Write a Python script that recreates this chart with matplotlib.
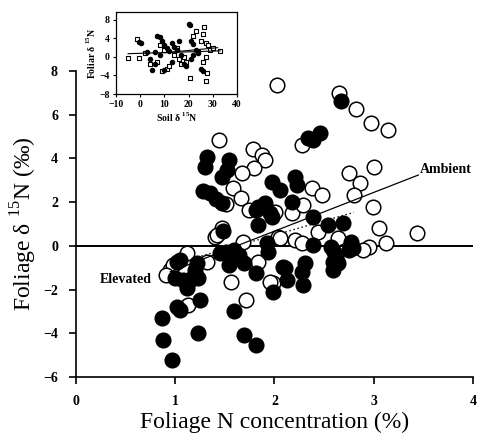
import matplotlib
matplotlib.use("Agg")
from matplotlib import pyplot as plt
import numpy as np

plt.rcParams['font.family'] = ['Liberation Serif', 'DejaVu Serif']
plt.rcParams['mathtext.fontset'] = 'custom'
plt.rcParams['mathtext.rm'] = 'Liberation Serif'
plt.rcParams['mathtext.bf'] = 'Liberation Serif:bold'

# elevated CO2 (filled circles): foliage N (%), foliage d15N (permil)
elev_n = [1.32, 1.30, 1.54, 1.52, 1.47, 1.28, 1.35, 1.41, 1.47, 2.34, 2.46, 2.67, 2.39,
          1.98, 2.06, 2.21, 2.23, 2.18, 1.83, 1.91, 1.98, 1.83, 1.48, 1.93, 2.39, 2.54,
          2.69, 2.77, 2.79, 2.57, 2.39, 2.62, 2.64, 2.59, 1.94, 2.11, 2.13, 2.28, 2.31,
          2.29, 1.99, 1.81, 1.51, 1.64, 1.54, 1.69, 1.81, 1.23, 1.25, 1.59, 1.23, 1.69,
          0.87, 0.88, 0.97, 1.02, 1.12, 1.08, 1.17, 1.22, 1.02, 1.00, 1.45, 1.59, 1.05,
          1.15, 1.20, 1.05, 2.09, 2.75, 2.60, 2.59, 1.81, 1.96]
elev_d15n = [4.06, 3.61, 3.93, 3.47, 3.15, 2.51, 2.42, 2.15, 1.96, 4.93, 5.16, 6.62, 4.84,
             2.92, 2.56, 3.15, 2.79, 2.01, 1.78, 1.96, 1.32, 0.96, 0.68, 0.14, 1.32, 0.96,
             1.05, 0.18, -0.09, -0.05, 0.05, -0.50, -0.78, -1.10, -0.27, -1.00, -1.55, -1.19, -0.78,
             -1.78, -2.10, -4.52, -0.27, -0.41, -0.87, -0.78, -1.23, -1.46, -2.47, -2.97, -3.97, -4.06,
             -3.29, -4.29, -5.20, -2.79, -1.92, -1.55, -1.46, -0.78, -0.73, -1.46, -0.32, -0.18, -0.64,
             -1.55, -1.10, -2.92, -0.96, -0.18, -0.27, -0.73, 1.64, 1.51]

# ambient CO2 (open circles)
amb_n = [2.03, 2.65, 2.82, 2.97, 3.14, 1.44, 1.78, 1.87, 1.90, 1.79, 1.67, 2.28, 1.58,
         1.66, 1.74, 1.51, 2.01, 2.18, 2.29, 2.38, 1.47, 1.68, 2.04, 2.21, 2.75, 3.00,
         2.86, 2.80, 2.99, 2.48, 3.05, 3.12, 2.95, 2.89, 3.44, 2.28, 2.06, 1.99, 0.95,
         1.13, 1.71, 1.56, 1.12, 1.32, 1.40, 1.83, 0.98, 1.96, 1.42, 2.44, 2.64, 0.91]
amb_d15n = [7.35, 6.99, 6.26, 5.62, 5.30, 4.84, 4.43, 4.16, 3.93, 3.56, 3.33, 4.61, 2.65,
            2.19, 1.64, 1.92, 1.55, 1.51, 1.87, 2.65, 0.82, 0.18, 0.41, 0.27, 3.33, 3.61,
            2.88, 2.33, 1.78, 2.33, 0.82, 0.14, -0.05, -0.18, 0.59, 0.14, 0.37, -1.69, -1.10,
            -2.69, -2.47, -1.64, -0.32, -0.73, 0.41, -0.73, -0.87, -1.64, 0.50, 0.64, 0.37, -1.32]

# regression lines: (x start, x end, slope, intercept)
amb_fit = (0.95, 3.45, 1.77, -2.87)
elev_fit = (0.9, 2.8, 1.30, -2.11)

# inset: soil d15N vs foliar d15N
ins_fill_x = [-0.5, 0.5, 3, 4, 5, 6, 7, 8, 9, 10, 11, 12, 13, 14, 15, 16, 17, 18, 19,
              20, 20.5, 21, 22, 23, 24, 25, 26, 22, 21, 13, 10, 8, 6]
ins_fill_y = [3.3, 3.0, 1.0, -0.5, -2.8, -1.5, 4.5, 4.2, 3.5, 2.5, 2.0, 1.2, 3.0, 2.2, 1.5, 3.5,
              0.5, -1.5, -2.0, 7.2, 6.8, 3.5, 2.8, 1.5, 0.8, -2.5, -3.0, 0.5, -0.5, -1.0, -2.8, 0.5, 1.0]
ins_open_x = [-5, -0.5, -1.5, 2, 4, 7, 8, 9, 10, 11, 12, 14, 15, 16, 17, 18, 19, 20.5,
              22, 23, 24, 25, 26, 26.5, 27, 27.5, 27, 28, 29, 30, 33, 26, 27]
ins_open_y = [-0.3, -0.3, 3.8, 0.8, -1.5, -1.0, 2.5, -3.0, 1.5, -2.5, -2.0, 0.5, 2.0, -0.5,
              -1.5, 0.0, -1.0, -4.5, 4.5, 5.5, 1.0, 3.5, 5.0, 6.5, 3.0, -3.5, -5.3, 2.5, 1.5,
              2.0, 1.2, -1.0, 0.0]
ins_fit1 = (-5, 33, 0.016, 0.78)
ins_fit2 = (10, 32, 0.05, 0.4)

fig = plt.figure(figsize=(4.87, 4.40), dpi=100)
ax = fig.add_axes([0.156, 0.143, 0.815, 0.696])

ax.scatter(amb_n, amb_d15n, s=110, facecolor='white', edgecolor='black', linewidth=1.1, zorder=3)
ax.scatter(elev_n, elev_d15n, s=110, facecolor='black', edgecolor='black', linewidth=1.1, zorder=3)

ax.axhline(0, color='black', lw=1.4, zorder=2)
xa = np.array(amb_fit[:2])
ax.plot(xa, amb_fit[2] * xa + amb_fit[3], color='black', lw=0.9, zorder=4)
xe = np.array(elev_fit[:2])
ax.plot(xe, elev_fit[2] * xe + elev_fit[3], color='black', lw=1.0, ls=(0, (1, 2)), zorder=2.5)

ax.text(3.47, 3.5, 'Ambient', fontsize=10, fontweight='bold', ha='left', va='center')
ax.text(0.24, -1.55, 'Elevated', fontsize=10, fontweight='bold', ha='left', va='center')

ax.set_xlim(0, 4)
ax.set_ylim(-6, 8)
ax.set_xticks([0, 1, 2, 3, 4])
ax.set_yticks([-6, -4, -2, 0, 2, 4, 6, 8])
for s in ['top', 'right']:
    ax.spines[s].set_visible(False)
ax.spines['left'].set_linewidth(1.2)
ax.spines['bottom'].set_linewidth(1.2)
ax.tick_params(direction='out', length=5, width=1.2, labelsize=10, pad=8)
for lab in ax.get_xticklabels() + ax.get_yticklabels():
    lab.set_fontweight('bold')
ax.set_xlabel('Foliage N concentration (%)', fontsize=17, labelpad=3)
ax.set_ylabel(r'Foliage δ $^{15}$N (‰)', fontsize=17, labelpad=3)

# inset
ins = fig.add_axes([116 / 487, 1 - 94 / 440, 121 / 487, 82 / 440])
ins.scatter(ins_open_x, ins_open_y, s=9, marker='s', facecolor='white', edgecolor='black', linewidth=0.8, zorder=3)
ins.scatter(ins_fill_x, ins_fill_y, s=10, marker='o', facecolor='black', edgecolor='black', linewidth=0.8, zorder=3)
for f in (ins_fit1, ins_fit2):
    xx = np.array(f[:2])
    ins.plot(xx, f[2] * xx + f[3], color='black', lw=0.8, zorder=4)
ins.set_xlim(-10, 40)
ins.set_ylim(-8, 9.7)
ins.set_xticks([-10, 0, 10, 20, 30, 40])
ins.set_yticks([-8, -4, 0, 4, 8])
ins.tick_params(direction='out', length=2.5, width=0.8, labelsize=7, pad=2)
for lab in ins.get_xticklabels() + ins.get_yticklabels():
    lab.set_fontweight('bold')
for s in ins.spines.values():
    s.set_linewidth(0.9)
ins.set_xlabel(r'Soil δ $^{\mathbf{15}}$N', fontsize=7, fontweight='bold', labelpad=1)
ins.set_ylabel(r'Foliar δ $^{\mathbf{15}}$N', fontsize=7, fontweight='bold', labelpad=1)

fig.savefig('out.png', dpi=100)
